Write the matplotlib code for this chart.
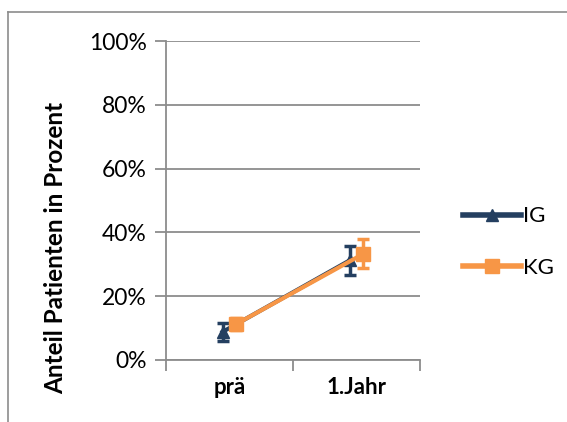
import numpy as np
import matplotlib.pyplot as plt
from matplotlib.lines import Line2D

plt.rcParams['font.family'] = ['Lato', 'DejaVu Sans']

categories = ['prä', '1.Jahr']
ig_values = [8.8, 31.2]
ig_err = [2.8, 4.6]
kg_values = [11.3, 33.3]
kg_err = [2.0, 4.5]
yticks = [0, 20, 40, 60, 80, 100]

ig_col = '#243F60'
kg_col = '#F79646'
grid_c = '#8c8c8c'

fig = plt.figure(figsize=(5.67, 4.22), dpi=100)
# outer chart border (only top/left visible in the crop)
fig.add_artist(Line2D([8/567, 8/567], [0, 1 - 12/422], color=grid_c, lw=1.2))
fig.add_artist(Line2D([8/567, 1], [1 - 12/422, 1 - 12/422], color=grid_c, lw=1.2))

ax = fig.add_axes([166/567, 1 - 360/422, 254/567, 319/422])
x = np.arange(len(categories)) + 0.5
off = 0.055

ax.errorbar(x - off, ig_values, yerr=ig_err, color=ig_col, lw=3, marker='^',
            ms=9, capsize=4, capthick=2.5, elinewidth=2.5, zorder=3)
ax.errorbar(x + off, kg_values, yerr=kg_err, color=kg_col, lw=3, marker='s',
            ms=10, capsize=4, capthick=2.5, elinewidth=2.5, zorder=4)

ax.set_xlim(0, 2)
ax.set_ylim(0, 100)
ax.set_yticks(yticks)
ax.set_yticklabels([f'{v}%' for v in yticks], fontsize=16.5)
ax.yaxis.grid(True, color=grid_c, lw=1.3)
ax.set_axisbelow(True)
ax.set_xticks([0, 1, 2])
ax.set_xticklabels([])
ax.set_xticks(x, minor=True)
ax.set_xticklabels(categories, minor=True, fontsize=16, fontweight='bold')
ax.tick_params(axis='x', which='minor', length=0, pad=12)
ax.tick_params(axis='x', which='major', length=8, color=grid_c, width=1.3)
ax.tick_params(axis='y', length=8, color=grid_c, width=1.3, pad=6)
for s in ['top', 'right']:
    ax.spines[s].set_visible(False)
for s in ['left', 'bottom']:
    ax.spines[s].set_color(grid_c)
    ax.spines[s].set_linewidth(1.3)

fig.text(56/567, 1 - 248/422, 'Anteil Patienten in Prozent', rotation=90,
         ha='center', va='center', fontsize=17.5, fontweight='bold')

handles = [Line2D([], [], color=ig_col, lw=4, marker='^', ms=9),
           Line2D([], [], color=kg_col, lw=4, marker='s', ms=10)]
ax.legend(handles, ['IG', 'KG'], loc='center left', bbox_to_anchor=(1.09, 0.37),
          frameon=False, fontsize=16, handlelength=2.6, handletextpad=0.1,
          labelspacing=1.4)

plt.savefig('out.png', dpi=100)
